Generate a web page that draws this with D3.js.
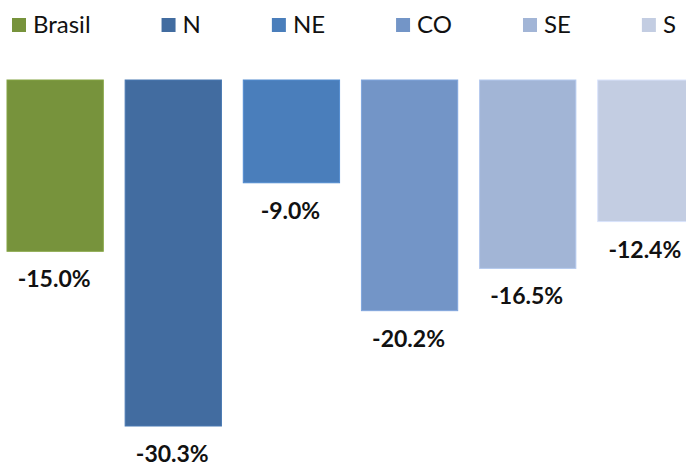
<!DOCTYPE html>
<html>
<head>
<meta charset="utf-8">
<script src="https://cdn.jsdelivr.net/npm/d3@7"></script>
<style>
  body { margin: 0; background: #fff; }
  svg { display: block; font-family: Lato, "Open Sans", sans-serif; }
</style>
</head>
<body>
<div id="chart"></div>
<script>
// data
var regions = ["Brasil", "N", "NE", "CO", "SE", "S"];
var changes = [-15.0, -30.3, -9.0, -20.2, -16.5, -12.4];
var colors = ["#77933c", "#426ca0", "#4a7ebb", "#7395c7", "#a2b5d6", "#c3cde2"];

var svgWidth = 686;
var svgHeight = 463;

var svg = d3.select("#chart")
            .append("svg")
            .attr("width", svgWidth)
            .attr("height", svgHeight);

// scales
var x = d3.scaleBand()
          .domain(regions)
          .range([7, 694])
          .paddingInner(0.185)
          .paddingOuter(0);

var y = d3.scaleLinear()
          .domain([0, -30.3])
          .range([80, 426]);

var color = d3.scaleOrdinal().domain(regions).range(colors);

var rows = regions.map(function(r, i) { return {region: r, value: changes[i]}; });

// bars
svg.selectAll("rect.bar")
   .data(rows)
   .enter()
   .append("rect")
   .attr("class", "bar")
   .attr("x", d => x(d.region))
   .attr("y", y(0))
   .attr("width", x.bandwidth())
   .attr("height", d => y(d.value) - y(0))
   .attr("fill", d => color(d.region))
   .attr("stroke", d => d3.color(color(d.region)).brighter(0.3))
   .attr("stroke-width", 1);

// value labels
svg.selectAll("text.val")
   .data(rows)
   .enter()
   .append("text")
   .attr("class", "val")
   .attr("x", d => x(d.region) + x.bandwidth() / 2 - 1)
   .attr("y", d => y(d.value) + 36)
   .attr("text-anchor", "middle")
   .style("font-weight", "bold")
   .style("font-size", "23px")
   .style("fill", "#111")
   .text(d => d.value.toFixed(1) + "%");

// legend
var legend = svg.append("g");
var cursor = 12;
regions.forEach(function(r) {
  legend.append("rect")
        .attr("x", cursor)
        .attr("y", 18)
        .attr("width", 14)
        .attr("height", 14)
        .attr("fill", color(r));
  var t = legend.append("text")
        .attr("x", cursor + 21)
        .attr("y", 33)
        .style("font-size", "24px")
        .style("fill", "#111")
        .text(r);
  cursor += 21 + t.node().getComputedTextLength() + 71;
});
</script>
</body>
</html>
